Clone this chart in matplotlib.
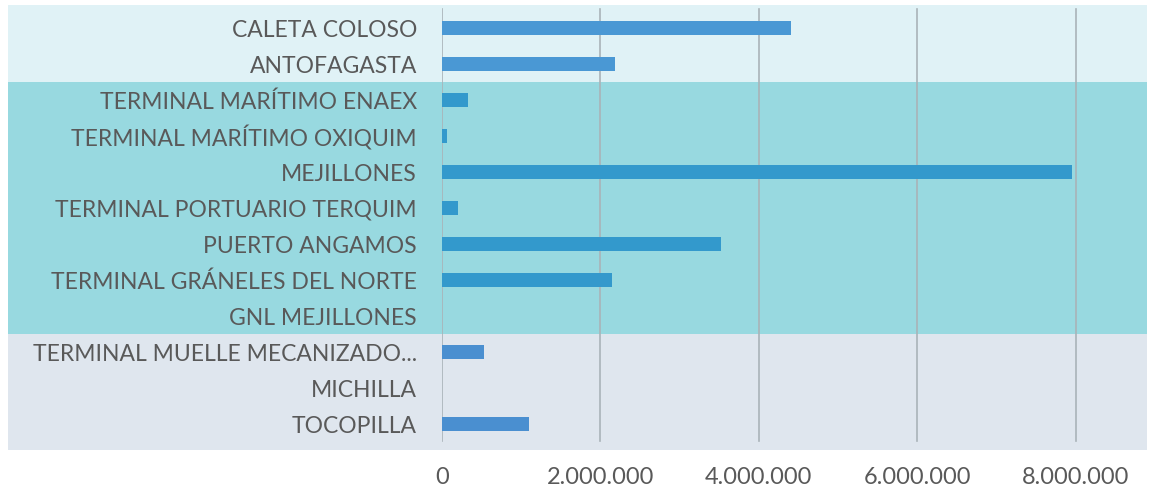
import matplotlib.pyplot as plt
from matplotlib.patches import Rectangle
from matplotlib.transforms import blended_transform_factory
from matplotlib.ticker import FuncFormatter

plt.rcParams['font.family'] = ['Lato', 'DejaVu Sans']

ports = ['CALETA COLOSO', 'ANTOFAGASTA', 'TERMINAL MARÍTIMO ENAEX',
         'TERMINAL MARÍTIMO OXIQUIM', 'MEJILLONES', 'TERMINAL PORTUARIO TERQUIM',
         'PUERTO ANGAMOS', 'TERMINAL GRÁNELES DEL NORTE', 'GNL MEJILLONES',
         'TERMINAL MUELLE MECANIZADO...', 'MICHILLA', 'TOCOPILLA']
tonnes = [4410000, 2180000, 330000, 60000, 7950000, 200000,
          3520000, 2150000, 0, 530000, 0, 1100000]
group = [0, 0, 1, 1, 1, 1, 1, 1, 1, 2, 2, 2]
ticks = [0, 2000000, 4000000, 6000000, 8000000]

band_colors = ['#e0f2f6', '#98d9e0', '#dfe6ee']
bar_colors = ['#4a98d4', '#3399cc', '#4a8fd0']

W, H = 1151, 492
fig = plt.figure(figsize=(W / 100, H / 100), dpi=100)
ax = fig.add_axes([442 / W, 1 - 450 / H, (1147 - 442) / W, 445 / H])
ax.set_facecolor('none')

y = list(range(len(ports)))
ax.barh(y, tonnes, height=0.4, color=[bar_colors[g] for g in group], zorder=3)
ax.set_ylim(11.72, -0.64)
ax.set_xlim(0, 8900000)

# fondos de color por zona, tambien detras de las etiquetas
tr = blended_transform_factory(fig.transFigure, ax.transData)
spans = [(-0.64, 1.5), (1.5, 8.5), (8.5, 11.72)]
for (a, b), c in zip(spans, band_colors):
    r = Rectangle((8 / W, a), (1147 - 8) / W, b - a, transform=tr,
                  facecolor=c, edgecolor='none', zorder=0, clip_on=False)
    fig.add_artist(r)
ax.set_zorder(1)

ax.set_xticks(ticks)
ax.xaxis.set_major_formatter(FuncFormatter(lambda v, p: f'{int(v):,}'.replace(',', '.')))
for t in ticks:
    ax.axvline(t, ymin=0.02, ymax=0.99, color='#a9b3b8', linewidth=1.2, zorder=1)
ax.set_yticks(y)
ax.set_yticklabels(ports)
ax.tick_params(axis='y', length=0, pad=18, labelsize=16.5, labelcolor='#595959')
ax.tick_params(axis='x', length=0, pad=12, labelsize=17, labelcolor='#595959')
for s in ax.spines.values():
    s.set_visible(False)

fig.savefig('out.png', dpi=100)
